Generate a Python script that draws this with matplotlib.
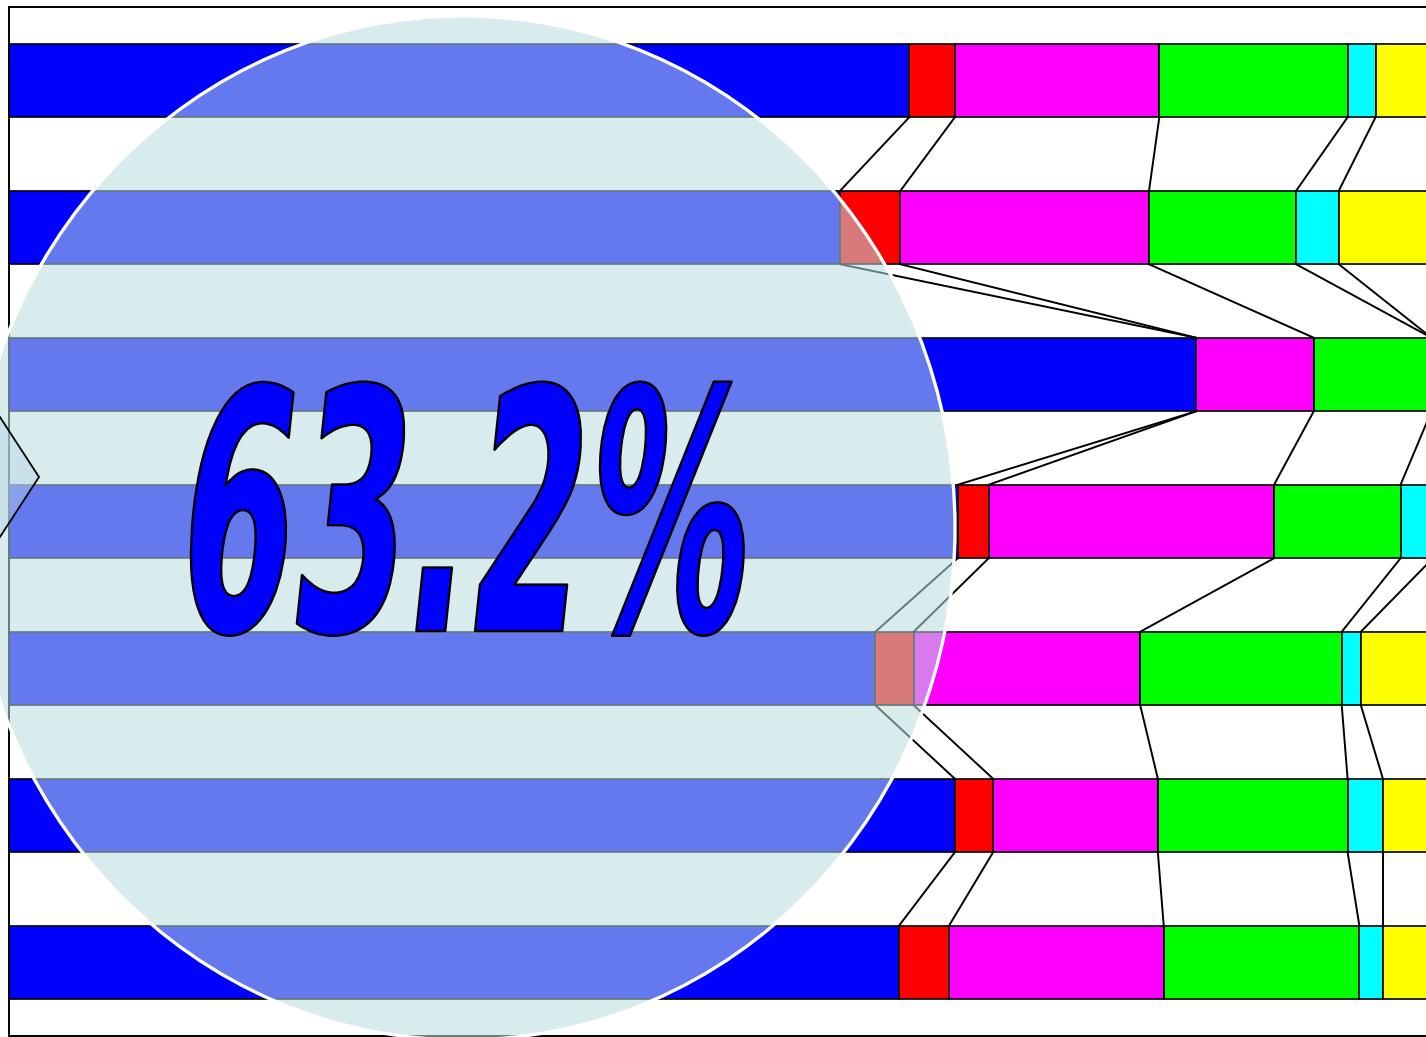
import matplotlib
matplotlib.use("Agg")
import matplotlib.pyplot as plt
from matplotlib import patheffects
from matplotlib.patches import Ellipse, Polygon
from matplotlib.transforms import Affine2D

# === DATA (share of each bar, rows top to bottom) ===
blue = [61.2, 56.5, 80.7, 64.5, 58.9, 64.3, 60.5]
red = [3.1, 4.1, 0.0, 2.1, 2.6, 2.6, 3.4]
magenta = [13.9, 16.9, 8.0, 19.4, 15.4, 11.2, 14.6]
green = [12.8, 10.0, 8.0, 8.6, 13.7, 12.9, 13.3]
cyan = [1.9, 2.9, 0.0, 2.2, 1.3, 2.4, 1.6]
yellow = [7.1, 9.6, 3.3, 3.2, 8.1, 6.6, 6.6]
big_label = "63.2%"

series = [blue, red, magenta, green, cyan, yellow]
colors = ["#0000ff", "#ff0000", "#ff00ff", "#00ff00", "#00ffff", "#ffff00"]

W, H = 1426, 1037
fig = plt.figure(figsize=(W / 100, H / 100), dpi=100)
# axes runs past the right edge of the picture (chart is cropped there)
ax = fig.add_axes([9 / W, 1 / H, (1480 - 9) / W, 1029 / H])

rows = list(range(len(blue)))
left = [0.0] * len(rows)
ends = []
for vals, c in zip(series, colors):
    ax.barh(rows, vals, left=left, height=0.5, color=c, edgecolor="black", linewidth=1.2)
    left = [l + v for l, v in zip(left, vals)]
    ends.append(left)

# series lines between neighbouring bars
for e in ends[:-1]:
    for i in range(len(rows) - 1):
        ax.plot([e[i], e[i + 1]], [i + 0.25, i + 0.75], color="black", lw=1.4)

ax.set_xlim(0, 100)
ax.set_ylim(len(rows) - 0.5, -0.5)
ax.set_xticks([])
ax.set_yticks([])
for s in ax.spines.values():
    s.set_linewidth(1.4)

# === translucent oval over the left part ===
oval = Ellipse((463 / W, 1 - 528 / H), 984 / W, 1024 / H, transform=fig.transFigure,
               facecolor=(184 / 255, 222 / 255, 224 / 255, 0.55), edgecolor="white",
               linewidth=2.4, zorder=5)
fig.add_artist(oval)


# stretch the big label like WordArt (tall, narrow, slanted)
class Squash(patheffects.AbstractPathEffect):
    def __init__(self, cx, cy, sx, sy, shear, lw, ec):
        super().__init__()
        self.cx, self.cy, self.sx, self.sy = cx, cy, sx, sy
        self.shear, self.lw, self.ec = shear, lw, ec

    def draw_path(self, renderer, gc, tpath, affine, rgbFace=None):
        t = affine + Affine2D().translate(-self.cx, -self.cy).scale(self.sx, self.sy) \
            .skew_deg(self.shear, 0).translate(self.cx, self.cy)
        gc0 = renderer.new_gc()
        gc0.copy_properties(gc)
        gc0.set_linewidth(self.lw)
        gc0.set_foreground(self.ec)
        renderer.draw_path(gc0, tpath, t, rgbFace)
        gc0.restore()


tx, ty = 456, 406  # baseline anchor, pixels from bottom-left
fig.text(tx / W, ty / H, big_label, ha="center", va="baseline", fontsize=126,
         fontweight="bold", family="DejaVu Sans", color="#0000ff", zorder=6,
         path_effects=[Squash(tx, ty, 0.94, 1.92, 6, 1.7, "black")])

# little diamond poking in from the left edge
pts = [(39, 477), (-60, 325), (-160, 477), (-60, 629)]
diamond = Polygon([(x / W, 1 - y / H) for x, y in pts], closed=True, transform=fig.transFigure,
                  facecolor=(0.72, 0.83, 0.91, 0.45), edgecolor="black", linewidth=1.3, zorder=7)
fig.add_artist(diamond)

fig.savefig("out.png", dpi=100)
